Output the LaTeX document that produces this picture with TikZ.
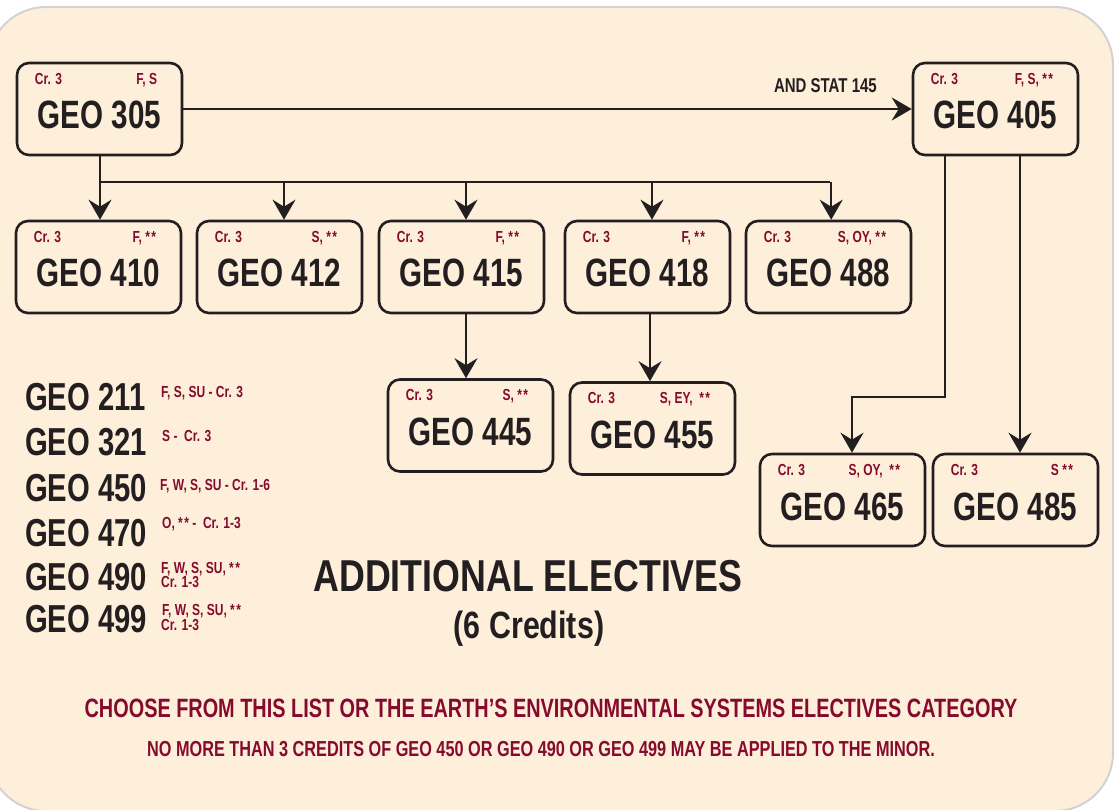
\documentclass[tikz,border=0pt]{standalone}
\usepackage{fontspec}
\usetikzlibrary{arrows.meta}
\newfontfamily\cond{Liberation Sans}[FakeStretch=0.75]
\newfontfamily\condw{Liberation Sans}[FakeStretch=0.80]
\definecolor{ink}{HTML}{231F20}
\definecolor{maroon}{HTML}{850A2D}
\definecolor{cream}{HTML}{FEEFDB}
\definecolor{rim}{HTML}{D2D2D2}
\newcommand\twostars{*\hspace{1.5pt}*}
\tikzset{
  cbox/.style={draw=ink, line width=2.6pt, rounded corners=12pt, minimum width=165pt, minimum height=92pt, inner sep=0pt},
  ttl/.style={font=\cond\bfseries\fontsize{39.5}{39.5}\selectfont, text=ink, inner sep=0pt, anchor=base},
  crl/.style={font=\cond\bfseries\fontsize{16}{16}\selectfont, text=maroon, inner sep=0pt},
  lst/.style={font=\cond\bfseries\fontsize{39}{39}\selectfont, text=ink, inner sep=0pt, anchor=base west},
  lsr/.style={font=\cond\bfseries\fontsize{16}{16}\selectfont, text=maroon, inner sep=0pt, anchor=base west},
  conn/.style={draw=ink, line width=2.4pt},
  arr/.style={conn, -{Stealth[length=20pt, width=23pt, inset=7pt]}},
}
\newcommand\course[4]{%
  \node[cbox] (g#1) at #2 {};
  \node[ttl] (g#1t) at ([yshift=-20pt]g#1.center) {GEO #1};
  \node[crl, anchor=base west] (g#1c) at ([xshift=19pt,yshift=-22.5pt]g#1.north west) {Cr. 3};
  \node[crl, anchor=base east] (g#1s) at ([xshift=-26pt,yshift=-22.5pt]g#1.north east) {#3};
}
\begin{document}
\begin{tikzpicture}[x=1pt, y=-1pt]
\useasboundingbox (0,0) rectangle (1116,810);
\fill[cream, draw=rim, line width=2pt, rounded corners=58pt] (-12,7) rectangle (1113,811);

\course{305}{(99.5,109)}{F, S}{}
\course{405}{(995.5,109)}{F, S, \twostars}{}
\course{410}{(98.5,267)}{F, \twostars}{}
\course{412}{(279.5,267)}{S, \twostars}{}
\course{415}{(461.5,267)}{F, \twostars}{}
\course{418}{(647.5,267)}{F, \twostars}{}
\course{488}{(828.5,267)}{S, OY, \twostars}{}
\course{445}{(470.5,425.5)}{S, \twostars}{}
\course{455}{(652.5,428.5)}{S, EY,\ \ \twostars}{}
\course{465}{(842.5,500)}{S, OY,\ \ \twostars}{}
\course{485}{(1015.5,500)}{S \twostars}{}

% connectors
\draw[arr] (g305.east) -- (g405.west);
\node[font=\cond\bfseries\fontsize{20}{20}\selectfont, text=ink, inner sep=0pt, anchor=base east] (stat) at (877,93) {AND STAT 145};

\coordinate (b0) at (100,182);
\coordinate (b1) at (284,182);
\coordinate (b2) at (466,182);
\coordinate (b3) at (652,182);
\coordinate (b4) at (830,182);
\draw[conn] (b0) -- (b4);
\draw[arr] (b0 |- g305.south) -- (b0 |- g410.north);
\draw[arr] (b1) -- (b1 |- g412.north);
\draw[arr] (b2) -- (b2 |- g415.north);
\draw[arr] (b3) -- (b3 |- g418.north);
\draw[arr] ([xshift=1.2pt]b4) -- ([xshift=1.2pt]b4 |- g488.north);

\coordinate (c1) at (466,350);
\coordinate (c2) at (650,350);
\draw[arr] (c1 |- g415.south) -- (c1 |- g445.north);
\draw[arr] (c2 |- g418.south) -- (c2 |- g455.north);

\coordinate (j1) at (945,397);
\coordinate (j2) at (852,397);
\coordinate (k1) at (1020,300);
\draw[arr] (j1 |- g405.south) -- (j1) -- (j2) -- (j2 |- g465.north);
\draw[arr] (k1 |- g405.south) -- (k1 |- g485.north);

% elective list
\node[lst] (e211) at (25,410) {GEO 211};
\node[lst] (e321) at (25,455) {GEO 321};
\node[lst] (e450) at (25,501) {GEO 450};
\node[lst] (e470) at (25,546) {GEO 470};
\node[lst] (e490) at (25,590) {GEO 490};
\node[lst] (e499) at (25,632) {GEO 499};
\node[lsr] (r211) at (161,397) {F, S, SU - Cr. 3};
\node[lsr] (r321) at (162,441) {S -\ \ Cr. 3};
\node[lsr] (r450) at (160,490) {F, W, S, SU - Cr. 1-6};
\node[lsr] (r470) at (162,528) {O, \twostars\ -\ \ Cr. 1-3};
\node[lsr] (r490a) at (161,573) {F, W, S, SU, \twostars};
\node[lsr] (r490b) at (161,587) {Cr. 1-3};
\node[lsr] (r499a) at (162,615) {F, W, S, SU, \twostars};
\node[lsr] (r499b) at (161,630) {Cr. 1-3};

\node[font=\condw\bfseries\fontsize{44.7}{44.7}\selectfont, text=ink, inner sep=0pt, anchor=base] (hd) at (528,591) {ADDITIONAL ELECTIVES};
\node[font=\condw\bfseries\fontsize{38}{38}\selectfont, text=ink, inner sep=0pt, anchor=base] (cr) at (529,638) {(6 Credits)};

\node[font=\cond\bfseries\fontsize{26.5}{26.5}\selectfont, text=maroon, inner sep=0pt, anchor=base] (ch) at (551,717) {CHOOSE FROM THIS LIST OR THE EARTH’S ENVIRONMENTAL SYSTEMS ELECTIVES CATEGORY};
\node[font=\cond\bfseries\fontsize{21.7}{21.7}\selectfont, text=maroon, inner sep=0pt, anchor=base] (nm) at (541,756) {NO MORE THAN 3 CREDITS OF GEO 450 OR GEO 490 OR GEO 499 MAY BE APPLIED TO THE MINOR.};
\end{tikzpicture}
\end{document}
